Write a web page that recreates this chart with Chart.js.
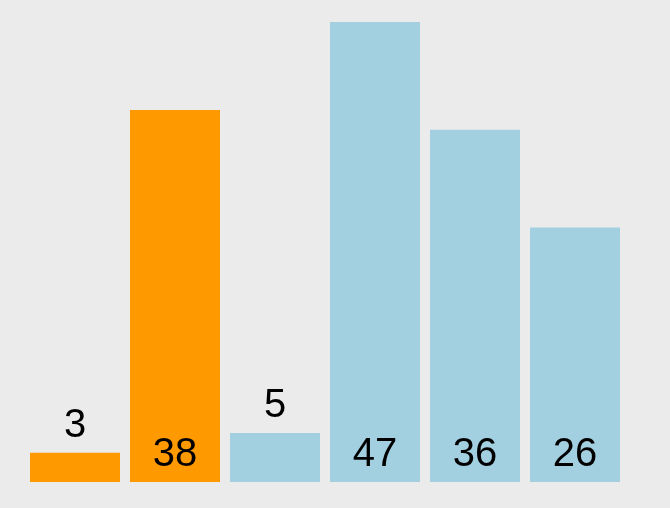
<!DOCTYPE html>
<html>
<head>
<meta charset="utf-8">
<script src="https://cdn.jsdelivr.net/npm/chart.js@4/dist/chart.umd.min.js"></script>
<style>
  html, body { margin: 0; padding: 0; background: #ebebeb; }
  #wrap { width: 670px; height: 508px; }
</style>
</head>
<body>
<div id="wrap"><canvas id="c" width="670" height="508"></canvas></div>
<script>
const categories = ["A", "B", "C", "D", "E", "F"];
const values = [3, 38, 5, 47, 36, 26];
const barColors = ["#ff9900", "#ff9900", "#a3d0e1", "#a3d0e1", "#a3d0e1", "#a3d0e1"];

const labelPlugin = {
  id: 'barLabels',
  afterDatasetsDraw(chart) {
    const ctx = chart.ctx;
    const meta = chart.getDatasetMeta(0);
    ctx.save();
    ctx.font = '40px "Liberation Sans", Helvetica, Arial, sans-serif';
    ctx.fillStyle = '#000';
    ctx.textAlign = 'center';
    ctx.textBaseline = 'alphabetic';
    meta.data.forEach((bar, i) => {
      const h = bar.base - bar.y;
      const text = String(values[i]);
      if (h < 70) {
        ctx.fillText(text, bar.x, bar.y - 16);
      } else {
        ctx.fillText(text, bar.x, bar.base - 16);
      }
    });
    ctx.restore();
  }
};

new Chart(document.getElementById('c'), {
  type: 'bar',
  data: {
    labels: categories,
    datasets: [{
      data: values,
      backgroundColor: barColors,
      borderWidth: 0,
      barPercentage: 0.9,
      categoryPercentage: 1.0
    }]
  },
  options: {
    responsive: false,
    animation: false,
    layout: { padding: { left: 25, right: 45, top: 22, bottom: 26 } },
    plugins: { legend: { display: false }, tooltip: { enabled: false } },
    scales: {
      x: { display: false },
      y: { display: false, min: 0, max: 47 }
    }
  },
  plugins: [labelPlugin]
});
</script>
</body>
</html>
